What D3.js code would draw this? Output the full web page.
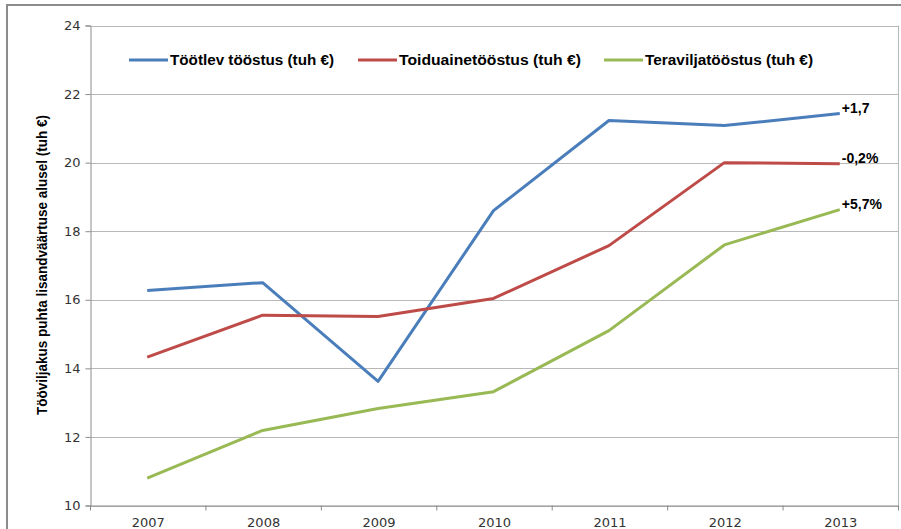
<!DOCTYPE html>
<html>
<head>
<meta charset="utf-8">
<script src="https://cdn.jsdelivr.net/npm/d3@7/dist/d3.min.js"></script>
<style>
  html, body { margin: 0; padding: 0; background: #fff; }
  svg { display: block; }
</style>
</head>
<body>
<svg id="chart" width="901" height="529"></svg>
<script>
const years = ["2007", "2008", "2009", "2010", "2011", "2012", "2013"];
const seriesNames = ["Töötlev tööstus (tuh €)", "Toiduainetööstus (tuh €)", "Teraviljatööstus (tuh €)"];
const tootlev = [16.27, 16.50, 13.62, 18.60, 21.23, 21.08, 21.43];
const toiduaine = [14.33, 15.55, 15.51, 16.04, 17.58, 20.00, 19.97];
const teravilja = [10.80, 12.19, 12.83, 13.32, 15.10, 17.60, 18.63];
const endLabels = ["+1,7", "-0,2%", "+5,7%"];
const yTicks = [10, 12, 14, 16, 18, 20, 22, 24];
const colors = ["#4A7EBB", "#BE4B48", "#98B954"];
const yTitle = "Tööviljakus puhta lisandväärtuse  alusel (tuh €)";

const series = [tootlev, toiduaine, teravilja];

const svg = d3.select("#chart");
const W = 901, H = 529;
const mLeft = 90.5, mRight = 898.5, mTop = 25.5, mBottom = 505.5;

// outer chart border
svg.append("rect")
  .attr("x", 7).attr("y", 5).attr("width", W + 10).attr("height", H + 10)
  .attr("fill", "none").attr("stroke", "#8c8c8c").attr("stroke-width", 2);

const x = d3.scaleBand().domain(years).range([mLeft, mRight]);
const y = d3.scaleLinear().domain([10, 24]).range([mBottom, mTop]);

// gridlines
svg.append("g")
  .selectAll("line")
  .data(yTicks)
  .join("line")
  .attr("x1", mLeft).attr("x2", mRight)
  .attr("y1", d => Math.round(y(d)) + 0.5).attr("y2", d => Math.round(y(d)) + 0.5)
  .attr("stroke", "#b8b8b8").attr("stroke-width", 1);

// right plot border
svg.append("line")
  .attr("x1", mRight).attr("x2", mRight).attr("y1", mTop).attr("y2", mBottom + 4)
  .attr("stroke", "#b8b8b8").attr("stroke-width", 1);

// y axis
const yAxis = svg.append("g")
  .attr("transform", `translate(${mLeft},0)`)
  .call(d3.axisLeft(y).tickValues(yTicks).tickSize(5).tickPadding(5).tickFormat(d3.format("d")));
yAxis.select(".domain").attr("stroke", "#8c8c8c");
yAxis.selectAll(".tick line").attr("stroke", "#8c8c8c");
yAxis.selectAll(".tick text")
  .attr("font-family", "'DejaVu Sans', Verdana, sans-serif")
  .attr("font-size", 13).attr("fill", "#333");

// x axis
const xAxis = svg.append("g")
  .attr("transform", `translate(0,${mBottom})`)
  .call(d3.axisBottom(x).tickSize(0).tickPadding(12));
xAxis.select(".domain").attr("stroke", "#8c8c8c");
xAxis.selectAll(".tick text")
  .attr("font-family", "'DejaVu Sans', Verdana, sans-serif")
  .attr("font-size", 13).attr("fill", "#333");
// category separator ticks
const sepPositions = years.map(d => x(d)).concat([mRight]);
xAxis.selectAll(".sep")
  .data(sepPositions)
  .join("line")
  .attr("class", "sep")
  .attr("x1", d => d).attr("x2", d => d)
  .attr("y1", 0).attr("y2", 5)
  .attr("stroke", "#8c8c8c");

// lines
const line = d3.line()
  .x((d, i) => x(years[i]) + x.bandwidth() / 2 - 1)
  .y(d => y(d));

svg.append("g")
  .selectAll("path")
  .data(series)
  .join("path")
  .attr("d", d => line(d))
  .attr("fill", "none")
  .attr("stroke", (d, i) => colors[i])
  .attr("stroke-width", 3)
  .attr("stroke-linejoin", "round");

// end labels
svg.append("g")
  .selectAll("text")
  .data(series)
  .join("text")
  .attr("x", x(years[6]) + x.bandwidth() / 2 + 1)
  .attr("y", d => y(d[6]) - 1)
  .attr("font-family", "'Liberation Sans', Arial, sans-serif")
  .attr("font-weight", "bold")
  .attr("font-size", 14)
  .attr("fill", "#000")
  .text((d, i) => endLabels[i]);

// legend
const legendX = [129, 358, 604];
const legendTextLen = [164, 182, 168];
const legend = svg.append("g");
seriesNames.forEach((name, i) => {
  legend.append("line")
    .attr("x1", legendX[i]).attr("x2", legendX[i] + 39)
    .attr("y1", 60).attr("y2", 60)
    .attr("stroke", colors[i]).attr("stroke-width", 3);
  legend.append("text")
    .attr("x", legendX[i] + 41).attr("y", 65)
    .attr("font-family", "'Liberation Sans', Arial, sans-serif")
    .attr("font-weight", "bold").attr("font-size", 14)
    .attr("textLength", legendTextLen[i])
    .attr("lengthAdjust", "spacingAndGlyphs")
    .attr("fill", "#000")
    .text(name);
});

// y title
svg.append("text")
  .attr("transform", `translate(47,${(115 + 415) / 2}) rotate(-90)`)
  .attr("text-anchor", "middle")
  .attr("font-family", "'Liberation Sans', Arial, sans-serif")
  .attr("font-weight", "bold").attr("font-size", 14.5)
  .attr("textLength", 300)
  .attr("lengthAdjust", "spacingAndGlyphs")
  .attr("fill", "#000")
  .text(yTitle);
</script>
</body>
</html>
